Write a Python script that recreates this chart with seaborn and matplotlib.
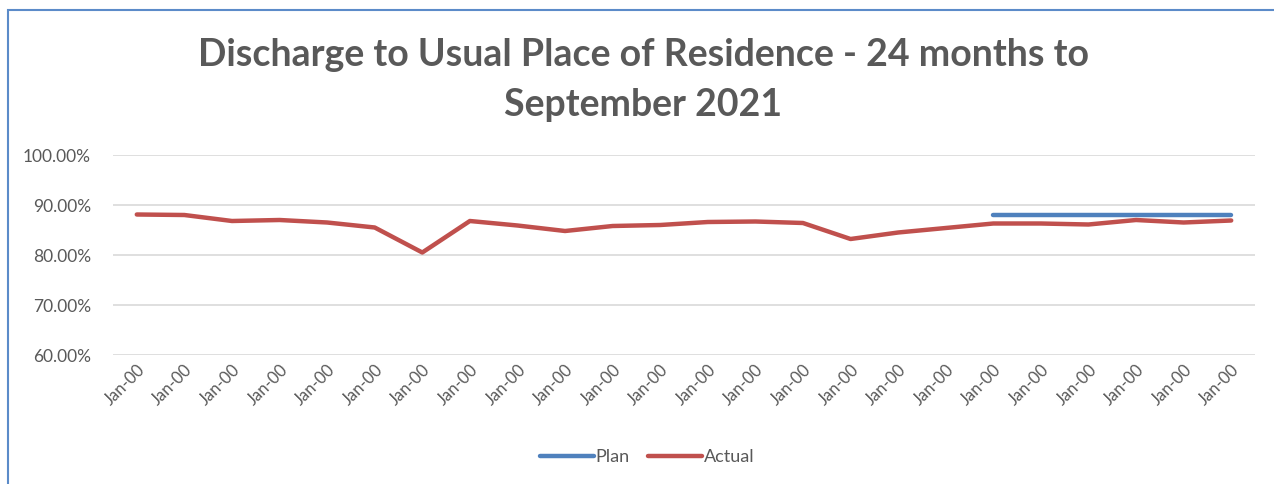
import numpy as np
import pandas as pd
import matplotlib.pyplot as plt
import matplotlib.patches as patches
import seaborn as sns

# values (percent)
months = ["Jan-00"] * 24
actual = [88.1, 88.0, 86.8, 87.0, 86.5, 85.5, 80.5, 86.8, 85.9, 84.8,
          85.8, 86.0, 86.6, 86.7, 86.4, 83.2, 84.5, 85.4, 86.3, 86.3,
          86.1, 87.0, 86.5, 86.9]
plan = [None] * 18 + [88.0] * 6

TEXT = "#595959"
RED = "#C0504D"
BLUE = "#4F81BD"

sns.set_theme(style="white")
plt.rcParams["font.family"] = ["Lato", "DejaVu Sans"]

df = pd.DataFrame({
    "idx": np.arange(len(months)),
    "Plan": pd.array(plan, dtype="Float64").astype(float),
    "Actual": actual,
})

fig = plt.figure(figsize=(12.74, 4.84), dpi=100)
ax = fig.add_axes([113 / 1274, 1 - 355 / 484, 1142 / 1274, 200 / 484])

sns.lineplot(data=df, x="idx", y="Plan", ax=ax, color=BLUE, linewidth=3.2,
             label="Plan", solid_capstyle="round")
sns.lineplot(data=df, x="idx", y="Actual", ax=ax, color=RED, linewidth=3.2,
             label="Actual", solid_capstyle="round")

ax.set_xlim(-0.5, len(months) - 0.5)
ax.set_ylim(60, 100)
ax.set_yticks([60, 70, 80, 90, 100])
ax.set_yticklabels([f"{v:.2f}%" for v in [60, 70, 80, 90, 100]],
                   color=TEXT, fontsize=12.5)
ax.set_xticks(df["idx"])
ax.set_xticklabels(months, rotation=45, ha="right", rotation_mode="anchor",
                   color=TEXT, fontsize=12)
ax.tick_params(axis="y", length=0, pad=16)
ax.tick_params(axis="x", length=0, pad=5)
ax.grid(axis="y", color="#D9D9D9", linewidth=1.2)
ax.set_axisbelow(True)
for s in ax.spines.values():
    s.set_visible(False)
ax.set_xlabel("")
ax.set_ylabel("")

ax.get_legend().remove()
handles, labels = ax.get_legend_handles_labels()
fig.legend(handles, labels, loc="center", bbox_to_anchor=(647 / 1274, 1 - 457 / 484),
           ncol=2, frameon=False, fontsize=13, labelcolor=TEXT,
           handlelength=3.0, columnspacing=1.0, handletextpad=0.1)

fig.text(643 / 1274, 1 - 80 / 484,
         "Discharge to Usual Place of Residence - 24 months to\nSeptember 2021",
         ha="center", va="center", fontsize=27, fontweight="bold", color=TEXT,
         linespacing=1.54)

# chart border (cropped at right and bottom in the reference)
fig.patches.append(patches.Rectangle((8 / 1274, -0.1), 1.2, 1 - 10 / 484 + 0.1,
                                     transform=fig.transFigure, fill=False,
                                     edgecolor="#5B8BC9", linewidth=1.5))

fig.savefig("out.png", dpi=100)
